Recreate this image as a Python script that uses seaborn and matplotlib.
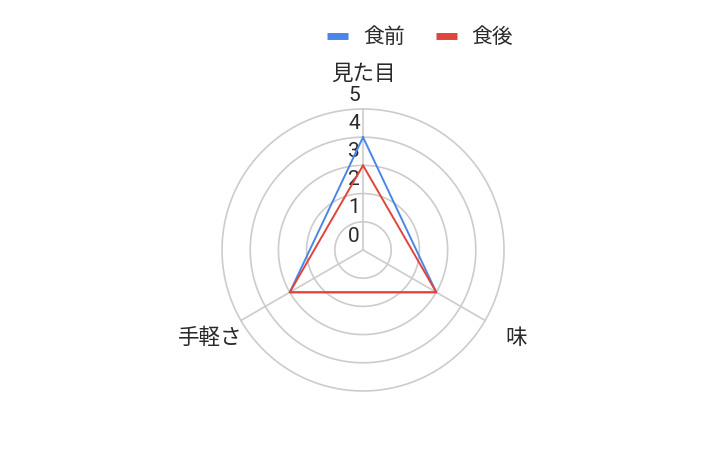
import matplotlib
matplotlib.use("Agg")
import matplotlib.pyplot as plt
import numpy as np
import pandas as pd
import seaborn as sns
from matplotlib.lines import Line2D

categories = ["見た目", "味", "手軽さ"]
series_names = ["食前", "食後"]
before_values = [4, 3, 3]
after_values = [3, 3, 3]
tick_values = [0, 1, 2, 3, 4, 5]
colors = {"食前": "#4a86e8", "食後": "#e0443a"}

sns.set_theme(style="white")
plt.rcParams["font.family"] = ["Noto Sans CJK JP", "DejaVu Sans"]

angles = np.linspace(0, 2 * np.pi, len(categories), endpoint=False)

rows = []
for name, vals in zip(series_names, [before_values, after_values]):
    for i in range(len(categories)):
        rows.append({"series": name, "theta": angles[i], "r": vals[i]})
    # close the polygon
    rows.append({"series": name, "theta": 2 * np.pi, "r": vals[0]})
df = pd.DataFrame(rows)

fig = plt.figure(figsize=(7.27, 4.62), dpi=100)
ax = fig.add_axes([0.3054, 0.1537, 0.3879, 0.6104], projection="polar")
ax.set_theta_offset(np.pi / 2)
ax.set_theta_direction(-1)
ax.set_ylim(0, 5)

# grid rings and spokes
ring_theta = np.linspace(0, 2 * np.pi, 300)
for v in tick_values[1:]:
    ax.plot(ring_theta, np.full_like(ring_theta, v), color="#cccccc", lw=1.2,
            zorder=1, clip_on=False)
for a in angles:
    ax.plot([a, a], [0, tick_values[-1]], color="#cccccc", lw=1.2, zorder=1, clip_on=False)
ax.grid(False)
ax.spines["polar"].set_visible(False)
ax.set_xticks([])
ax.set_yticks([])

sns.lineplot(data=df, x="theta", y="r", hue="series", palette=colors, sort=False,
             estimator=None, units="series", lw=1.4, ax=ax, legend=False, zorder=3)
ax.set_xlabel("")
ax.set_ylabel("")

for v in tick_values:
    ax.annotate(str(v), xy=(0, v), xytext=(-6.5, 10), textcoords="offset points",
                ha="center", va="center", fontsize=15, color="#2a2a2a", zorder=2,
                family=["Roboto", "DejaVu Sans"])

for a, lab in zip(angles, categories):
    ax.text(a, 6.25, lab, ha="center", va="center", fontsize=15.5, color="#2a2a2a",
            clip_on=False)

handles = [Line2D([], [], color=colors[n], lw=5, solid_capstyle="butt") for n in series_names]
fig.legend(handles, series_names, loc="center", bbox_to_anchor=(0.578, 0.92), ncol=2,
           frameon=False, fontsize=15, handlelength=1.0, handletextpad=0.7,
           columnspacing=1.5, labelcolor="#2a2a2a")

fig.savefig("out.png", dpi=100)
